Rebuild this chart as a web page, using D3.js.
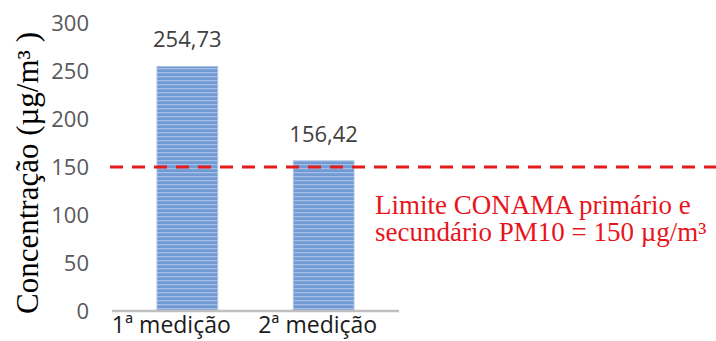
<!DOCTYPE html>
<html>
<head>
<meta charset="utf-8">
<script src="https://cdn.jsdelivr.net/npm/d3@7"></script>
<style>
  html, body { margin: 0; padding: 0; background: #fff; }
  svg { display: block; }
</style>
</head>
<body>
<svg id="chart" width="716" height="341"></svg>
<script>
const categories = ["1ª medição", "2ª medição"];
const values = [254.73, 156.42];
const valueLabels = ["254,73", "156,42"];
const yTicks = [0, 50, 100, 150, 200, 250, 300];
const limitValue = 150;
const yTitle = "Concentração (µg/m³ )";
const limitText = ["Limite CONAMA primário e", "secundário PM10 = 150 µg/m³"];

const svg = d3.select("#chart");

const y = d3.scaleLinear().domain([0, 300]).range([311, 23]);
const x = d3.scaleBand().domain(categories).range([112, 399])
  .paddingInner(0.555).paddingOuter(0.33);

// stripe pattern for bars
const defs = svg.append("defs");
const pat = defs.append("pattern").attr("id", "stripes")
  .attr("patternUnits", "userSpaceOnUse").attr("width", 8).attr("height", 4);
pat.append("rect").attr("width", 8).attr("height", 4).attr("fill", "#7199d2");
pat.append("rect").attr("y", 0).attr("width", 8).attr("height", 1.3).attr("fill", "#a3bee7");

// bars
svg.append("g").selectAll("rect").data(values).join("rect")
  .attr("x", (d, i) => x(categories[i]))
  .attr("y", d => y(d))
  .attr("width", x.bandwidth())
  .attr("height", d => y(0) - y(d))
  .attr("fill", "url(#stripes)")
  .attr("stroke", "#a9c2e6")
  .attr("stroke-width", 1);

// x axis line
svg.append("line")
  .attr("x1", 112).attr("x2", 399)
  .attr("y1", y(0)).attr("y2", y(0))
  .attr("stroke", "#bfbfbf").attr("stroke-width", 2.5);

// y tick labels
svg.append("g").selectAll("text").data(yTicks).join("text")
  .attr("x", 89).attr("y", d => y(d)).attr("dy", "0.36em")
  .attr("text-anchor", "end")
  .attr("font-family", "Open Sans, sans-serif").attr("font-size", 22)
  .attr("fill", "#595959")
  .text(d => d);

// category labels (slightly shifted left of band centres as in the original)
const labelShift = [-16, -6];
svg.append("g").selectAll("text").data(categories).join("text")
  .attr("x", (d, i) => x(d) + x.bandwidth() / 2 + labelShift[i]).attr("y", 333)
  .attr("text-anchor", "middle")
  .attr("font-family", "Open Sans, sans-serif").attr("font-size", 23)
  .attr("fill", "#1a1a1a")
  .text(d => d);

// value labels
svg.append("g").selectAll("text").data(values).join("text")
  .attr("x", (d, i) => x(categories[i]) + x.bandwidth() / 2)
  .attr("y", d => y(d) - 19)
  .attr("text-anchor", "middle")
  .attr("font-family", "Open Sans, sans-serif").attr("font-size", 22)
  .attr("fill", "#404040")
  .text((d, i) => valueLabels[i]);

// limit line
svg.append("line")
  .attr("x1", 110).attr("x2", 716)
  .attr("y1", y(limitValue)).attr("y2", y(limitValue))
  .attr("stroke", "#e31b1b").attr("stroke-width", 3.2)
  .attr("stroke-dasharray", "13,9");

// limit text
svg.append("g").selectAll("text").data(limitText).join("text")
  .attr("x", 375).attr("y", (d, i) => 214 + i * 27)
  .attr("font-family", "Liberation Serif, Times New Roman, serif")
  .attr("font-size", 27)
  .attr("fill", "#e8141c")
  .text(d => d);

// y title
svg.append("text")
  .attr("transform", "translate(38,173) rotate(-90)")
  .attr("text-anchor", "middle")
  .attr("font-family", "Liberation Serif, Times New Roman, serif")
  .attr("font-size", 31)
  .attr("fill", "#000")
  .text(yTitle);
</script>
</body>
</html>
